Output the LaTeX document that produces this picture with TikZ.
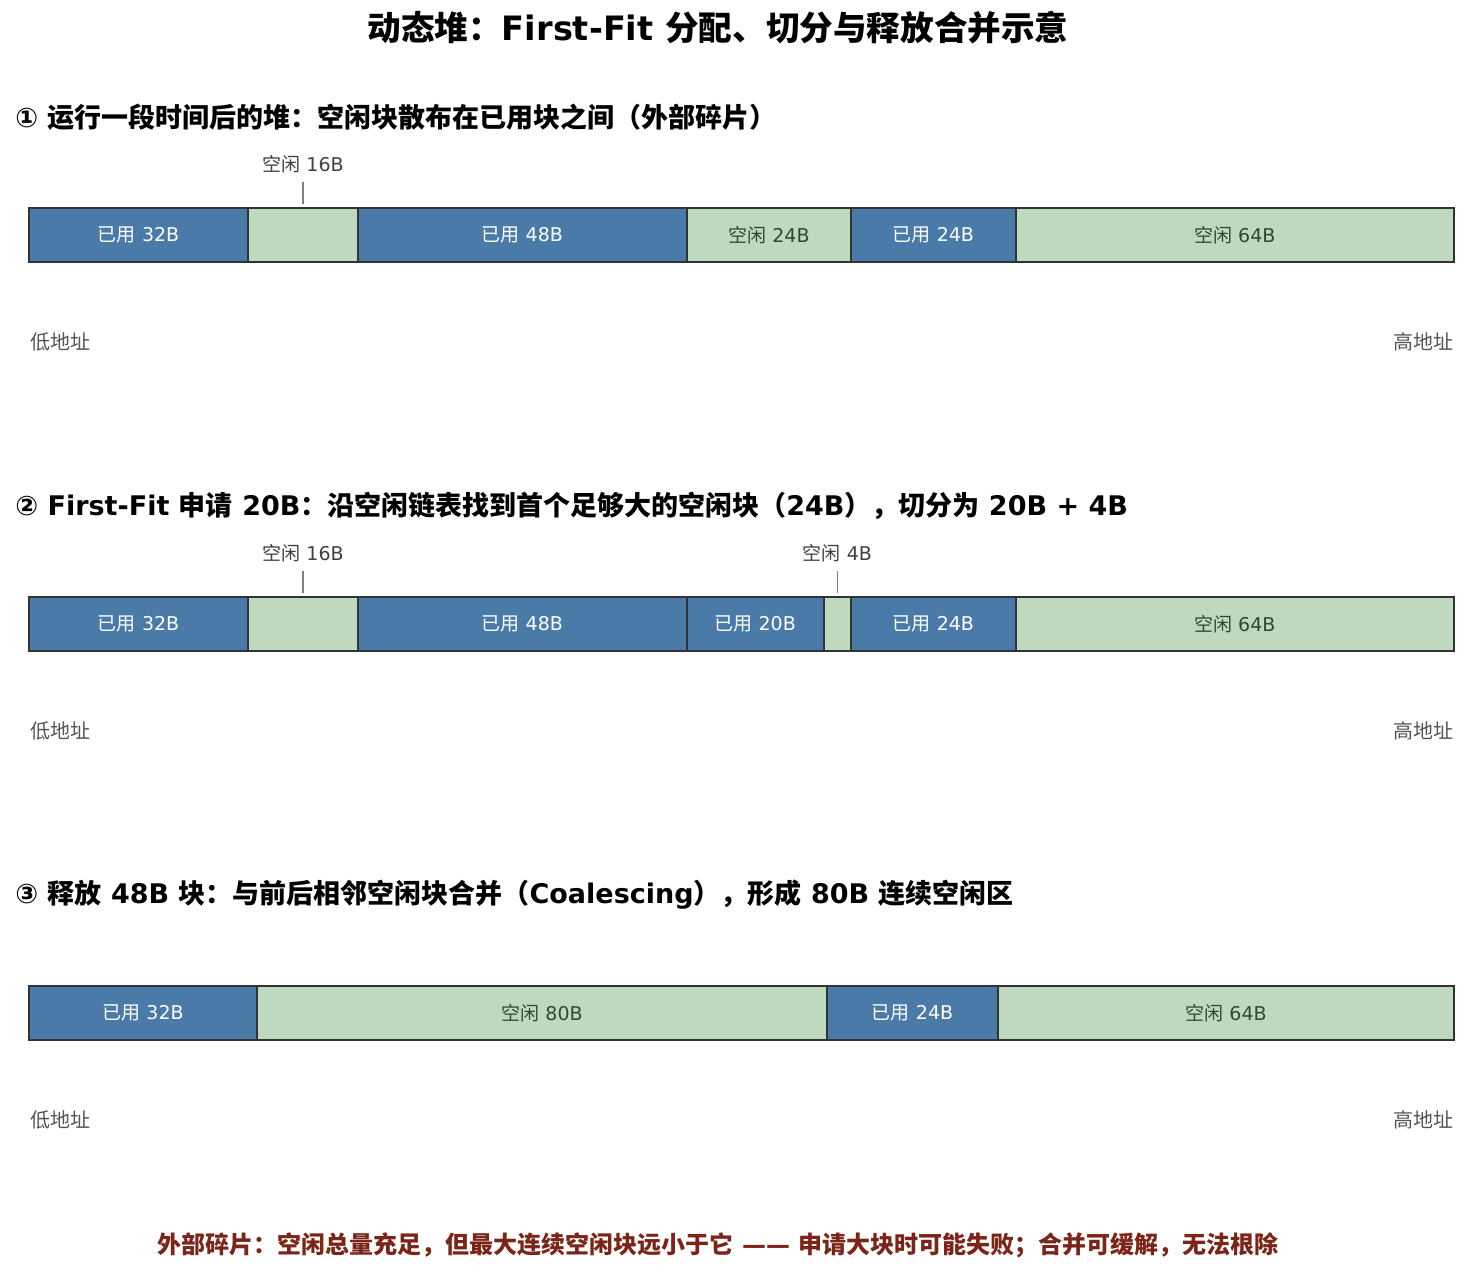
\documentclass[tikz,border=0pt]{standalone}
\usepackage{fontspec}
\setmainfont{DejaVu Sans}
\newfontfamily\cjk{Noto Sans CJK SC}
\usetikzlibrary{positioning}
\definecolor{usedblue}{HTML}{4A7AA7}
\definecolor{freegreen}{HTML}{BFD9BF}
\definecolor{freetext}{HTML}{2E4A2E}
\definecolor{edge}{HTML}{333333}
\definecolor{notered}{HTML}{7B2418}
\newcommand\usedtxt{{\cjk 已用}}
\newcommand\freetxt{{\cjk 空闲}}
\tikzset{
  blk/.style={draw=edge, line width=1pt, minimum height=27pt, inner sep=0pt, outer sep=0pt, font=\fontsize{9.5}{11}\selectfont},
  used/.style={blk, fill=usedblue, text=white},
  free/.style={blk, fill=freegreen, text=freetext},
  hdr/.style={anchor=west, inner sep=0pt, font=\fontsize{13.5}{16}\selectfont\bfseries},
  tag/.style={inner sep=0pt, text=black!75, font=\fontsize{9.5}{11}\selectfont},
  tick/.style={draw=black!50, line width=0.6pt, shorten <=4.25pt, shorten >=2pt},
  addr/.style={inner sep=0pt, text=black!67, font=\fontsize{10}{12}\selectfont\cjk},
}
\begin{document}
\begin{tikzpicture}[x=0.5pt, y=-0.5pt]
\useasboundingbox (0,0) rectangle (1483,1273);
% Titel
\node[font=\fontsize{16.8}{20}\selectfont\bfseries] (title) at (718,28)
  {{\cjk 动态堆：}First-Fit {\cjk 分配、切分与释放合并示意}};

%%%% 1: Heap nach einiger Zeit
\node[hdr] (h1) at (15,117) {① {\cjk 运行一段时间后的堆：空闲块散布在已用块之间（外部碎片）}};
\coordinate (a0) at (29,235);
\foreach \k/\n/\t [count=\i, evaluate=\i as \j using int(\i-1)] in
  {used/32/{\usedtxt\ 32B}, free/16/{}, used/48/{\usedtxt\ 48B},
   free/24/{\freetxt\ 24B}, used/24/{\usedtxt\ 24B}, free/64/{\freetxt\ 64B}} {
  \node[\k, minimum width=\n*3.4255pt, right=0pt of a\j] (a\i) {\t};
}
\node[tag, above=17.25pt of a2] (ta2) {\freetxt\ 16B};
\draw[tick] (ta2) -- (a2);
\node[addr, anchor=west] (lo1) at (30,342) {低地址};
\node[addr, anchor=east] (hi1) at (1454,342) {高地址};

%%%% 2: First-Fit 20B
\node[hdr] (h2) at (15,506) {② First-Fit {\cjk 申请} 20B{\cjk ：沿空闲链表找到首个足够大的空闲块（}24B{\cjk ），切分为} 20B + 4B};
\coordinate (b0) at (29,624);
\foreach \k/\n/\t [count=\i, evaluate=\i as \j using int(\i-1)] in
  {used/32/{\usedtxt\ 32B}, free/16/{}, used/48/{\usedtxt\ 48B}, used/20/{\usedtxt\ 20B},
   free/4/{}, used/24/{\usedtxt\ 24B}, free/64/{\freetxt\ 64B}} {
  \node[\k, minimum width=\n*3.4255pt, right=0pt of b\j] (b\i) {\t};
}
\node[tag, above=17.25pt of b2] (tb2) {\freetxt\ 16B};
\node[tag, above=17.25pt of b5] (tb5) {\freetxt\ 4B};
\draw[tick] (tb2) -- (b2);
\draw[tick] (tb5) -- (b5);
\node[addr, anchor=west] (lo2) at (30,731) {低地址};
\node[addr, anchor=east] (hi2) at (1454,731) {高地址};

%%%% 3: Freigabe und Verschmelzen
\node[hdr] (h3) at (15,895) {③ {\cjk 释放} 48B {\cjk 块：与前后相邻空闲块合并（}Coalescing{\cjk ），形成} 80B {\cjk 连续空闲区}};
\coordinate (c0) at (29,1013);
\foreach \k/\n/\t [count=\i, evaluate=\i as \j using int(\i-1)] in
  {used/32/{\usedtxt\ 32B}, free/80/{\freetxt\ 80B}, used/24/{\usedtxt\ 24B}, free/64/{\freetxt\ 64B}} {
  \node[\k, minimum width=\n*3.5625pt, right=0pt of c\j] (c\i) {\t};
}
\node[addr, anchor=west] (lo3) at (30,1120) {低地址};
\node[addr, anchor=east] (hi3) at (1454,1120) {高地址};

% Fazit
\node[font=\fontsize{12}{14}\selectfont\bfseries, text=notered] (note) at (718,1245)
  {{\cjk 外部碎片：空闲总量充足，但最大连续空闲块远小于它} —— {\cjk 申请大块时可能失败；合并可缓解，无法根除}};
\end{tikzpicture}
\end{document}
